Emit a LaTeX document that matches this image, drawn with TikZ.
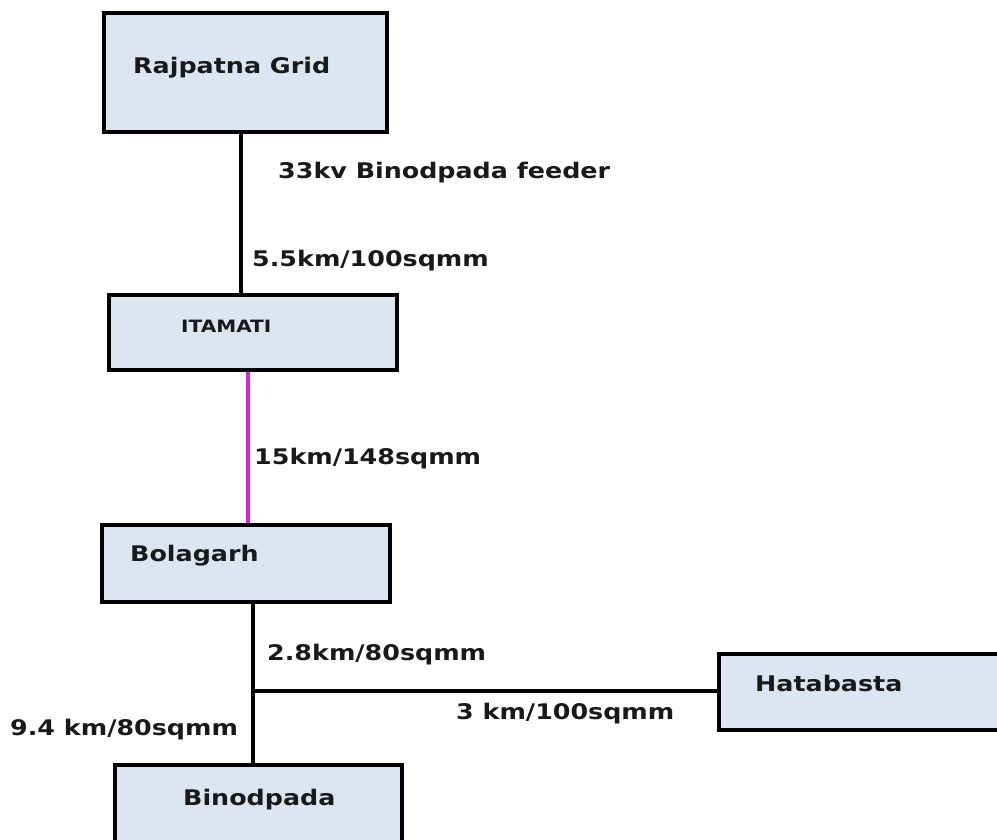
\documentclass[tikz,border=0pt]{standalone}
\usepackage{fontspec}
\setmainfont{DejaVu Sans}[FakeStretch=1.18]
\definecolor{boxfill}{RGB}{220,230,243}
\definecolor{linkmag}{RGB}{225,30,225}
\definecolor{txt}{RGB}{25,25,25}
\begin{document}
\begin{tikzpicture}[x=1pt,y=-1pt,
  stationbox/.style={draw=black,line width=3.5pt,fill=boxfill,rectangle,inner sep=0pt},
  lbl/.style={anchor=base west,inner sep=0pt,text=txt,font=\fontsize{21.5}{25}\selectfont\bfseries},
  smalllbl/.style={anchor=base west,inner sep=0pt,text=txt,font=\fontsize{17}{20}\selectfont\bfseries},
  wire/.style={line width=3.2pt,draw=black},
  magwire/.style={line width=3.2pt,draw=linkmag}]
\useasboundingbox (0,0) rectangle (997,839);
\clip (0,0) rectangle (997,839);
\fill[white] (0,0) rectangle (997,839);
% boxes
\node[stationbox,minimum width=283pt,minimum height=119pt,anchor=north west] (rg) at (102,11) {};
\node[stationbox,minimum width=288pt,minimum height=75pt,anchor=north west] (it) at (107,293) {};
\node[stationbox,minimum width=288pt,minimum height=77pt,anchor=north west] (bg) at (100,523) {};
\node[stationbox,minimum width=287pt,minimum height=100pt,anchor=north west] (bp) at (113,763) {};
\node[stationbox,minimum width=300pt,minimum height=76pt,anchor=north west] (hb) at (717,652) {};
% box texts
\node[lbl] (rgt) at (133,73) {Rajpatna Grid};
\node[smalllbl] (itt) at (181,332) {ITAMATI};
\node[lbl] (bgt) at (130,561) {Bolagarh};
\node[lbl] (bpt) at (183,805) {Binodpada};
\node[lbl] (hbt) at (755,691) {Hatabasta};
% connector x positions
\coordinate (c1) at (241,0);
\coordinate (c2) at (248,0);
\coordinate (c3) at (253,0);
\coordinate (jn) at (253,691);
% connectors
\draw[wire] (rg.south -| c1) -- (it.north -| c1);
\draw[magwire] (it.south -| c2) -- (bg.north -| c2);
\draw[wire] (bg.south -| c3) -- (bp.north -| c3);
\draw[wire] (jn) -- (hb.west |- jn);
% line labels
\node[lbl] (l1) at (278,178) {33kv Binodpada feeder};
\node[lbl] (l2) at (252,266) {5.5km/100sqmm};
\node[lbl] (l3) at (254,464) {15km/148sqmm};
\node[lbl] (l4) at (267,660) {2.8km/80sqmm};
\node[lbl] (l5) at (456,719) {3 km/100sqmm};
\node[lbl] (l6) at (10,735) {9.4 km/80sqmm};
\end{tikzpicture}
\end{document}
